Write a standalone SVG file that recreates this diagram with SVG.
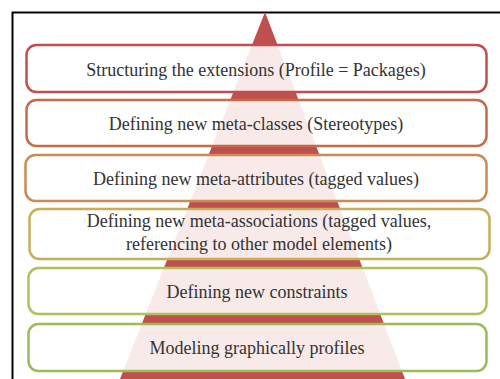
<svg xmlns="http://www.w3.org/2000/svg" width="500" height="379" viewBox="0 0 500 379">
<style>
.box{fill:#ffffff;fill-opacity:0.88;stroke-width:2.5}
.t{font-family:'Liberation Serif','Times New Roman','DejaVu Serif',serif;font-size:18px;fill:#333333;text-anchor:middle}
</style>
<rect x="0" y="0" width="500" height="379" fill="#ffffff"/>
<path d="M12.5 379 V12.5 H500" fill="none" stroke="#000000" stroke-width="2"/>
<g id="pyramid"><polygon points="265,12 405,379 120,379" fill="#c0504d"/></g>
<g id="n1"><rect class="box" x="26.5" y="45" width="460" height="47" rx="10" stroke="#c0504d"/><text class="t" x="256" y="76">Structuring the extensions (Profile = Packages)</text></g>
<g id="n2"><rect class="box" x="26.5" y="100" width="460" height="46" rx="10" stroke="#c8694a"/><text class="t" x="256" y="130">Defining new meta-classes (Stereotypes)</text></g>
<g id="n3"><rect class="box" x="25.5" y="155" width="461" height="46" rx="10" stroke="#c98c56"/><text class="t" x="256" y="185">Defining new meta-attributes (tagged values)</text></g>
<g id="n4"><rect class="box" x="29.5" y="209" width="460" height="50" rx="10" stroke="#c8ae5a"/><text class="t" x="259" y="227">Defining new meta-associations (tagged values,</text><text class="t" x="259" y="250">referencing to other model elements)</text></g>
<g id="n5"><rect class="box" x="28.5" y="268" width="458" height="46" rx="10" stroke="#aec25a"/><text class="t" x="257" y="298">Defining new constraints</text></g>
<g id="n6"><rect class="box" x="28.5" y="324" width="458" height="47" rx="10" stroke="#9bbb59"/><text class="t" x="257" y="354">Modeling graphically profiles</text></g>
<g id="connectors"/>
</svg>
